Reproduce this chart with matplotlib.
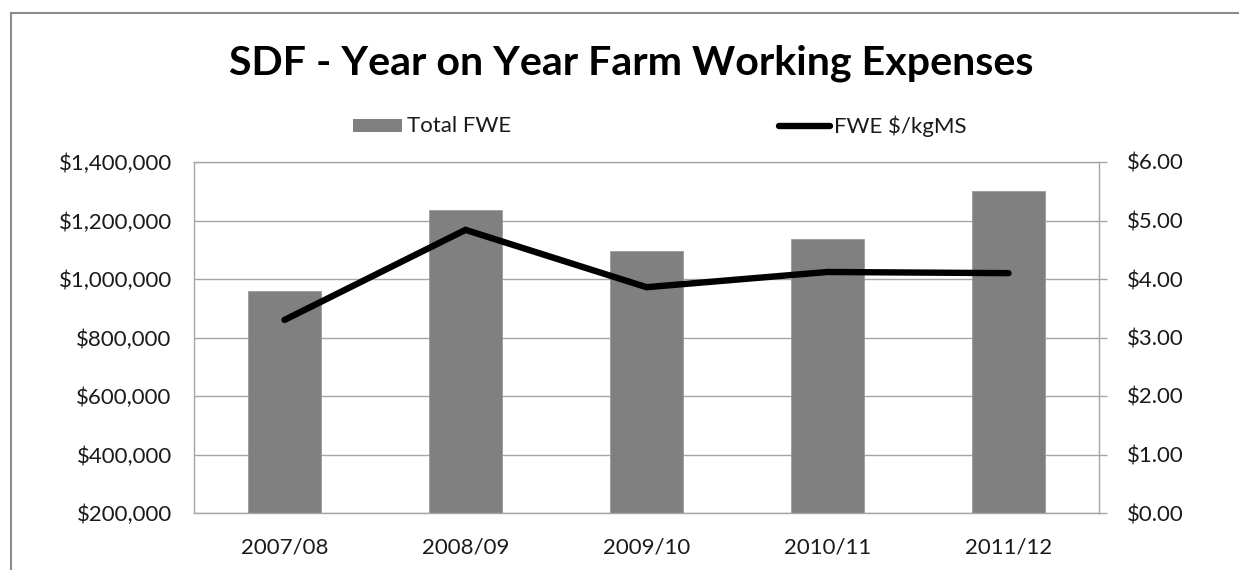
import matplotlib
matplotlib.use("Agg")
import matplotlib.pyplot as plt
from matplotlib.lines import Line2D
from matplotlib.patches import Rectangle
from matplotlib.ticker import FuncFormatter

plt.rcParams['font.family'] = ['Lato', 'DejaVu Sans']

# Data
seasons = ["2007/08", "2008/09", "2009/10", "2010/11", "2011/12"]
total_fwe = [960000, 1235000, 1097000, 1136000, 1300000]
fwe_per_kgms = [3.30, 4.84, 3.86, 4.12, 4.10]
left_ticks = [200000, 400000, 600000, 800000, 1000000, 1200000, 1400000]
right_ticks = [0, 1, 2, 3, 4, 5, 6]

W, H = 1239, 570
fig = plt.figure(figsize=(W / 100, H / 100), dpi=100)
fig.patch.set_facecolor("white")

grid_c = "#a6a6a6"
bar_c = "#808080"

ax = fig.add_axes([194 / W, 1 - 513 / H, (1099 - 194) / W, (513 - 162) / H])
x = list(range(len(seasons)))
ax.bar(x, total_fwe, width=0.4, color=bar_c, edgecolor="#9a9a9a", linewidth=0.6, zorder=2)
ax.set_xlim(-0.5, len(seasons) - 0.5)
ax.set_ylim(left_ticks[0], left_ticks[-1])
ax.set_yticks(left_ticks)
ax.yaxis.set_major_formatter(FuncFormatter(lambda v, p: f"${v:,.0f}"))
ax.set_xticks(x)
ax.set_xticklabels(seasons)
ax.grid(axis="y", color=grid_c, linewidth=1.0)
ax.set_axisbelow(True)
ax.tick_params(axis="y", length=0, pad=16, labelsize=16, colors="#1a1a1a")
ax.tick_params(axis="x", length=0, pad=18, labelsize=16, colors="#1a1a1a")
for s in ["left", "bottom", "top"]:
    ax.spines[s].set_color(grid_c)
    ax.spines[s].set_linewidth(1.0)
ax.spines["right"].set_visible(False)

ax2 = ax.twinx()
ax2.plot(x, fwe_per_kgms, color="black", linewidth=4.6, solid_capstyle="round",
         solid_joinstyle="miter", zorder=3)
ax2.set_ylim(right_ticks[0], right_ticks[-1])
ax2.set_yticks(right_ticks)
ax2.yaxis.set_major_formatter(FuncFormatter(lambda v, p: f"${v:.2f}"))
ax2.tick_params(axis="y", length=6, width=1.0, color=grid_c, pad=14, labelsize=16,
                colors="#1a1a1a")
ax2.tick_params(axis="y", color=grid_c)
for s in ["left", "bottom", "top"]:
    ax2.spines[s].set_visible(False)
ax2.spines["right"].set_color(grid_c)
ax2.spines["right"].set_linewidth(1.0)

# Title
fig.text(631 / W, 1 - 63 / H, "SDF - Year on Year Farm Working Expenses",
         ha="center", va="center", fontsize=29.6, fontweight="bold", color="black")

# Legend
fig.add_artist(Rectangle((353 / W, 1 - 132 / H), 49 / W, 13 / H,
                         transform=fig.transFigure, facecolor=bar_c, edgecolor="none"))
fig.text(407 / W, 1 - 126 / H, "Total FWE", ha="left", va="center", fontsize=16, color="#1a1a1a")
fig.add_artist(Line2D([779 / W, 830 / W], [1 - 126 / H, 1 - 126 / H],
                      transform=fig.transFigure, color="black", linewidth=4.6,
                      solid_capstyle="round"))
fig.text(834 / W, 1 - 126 / H, "FWE $/kgMS", ha="left", va="center", fontsize=16, color="#1a1a1a")

# Outer frame
frame_c = "#8c8c8c"
fig.add_artist(Line2D([11 / W, 11 / W], [1 - 13 / H, 0], transform=fig.transFigure,
                      color=frame_c, linewidth=1.5))
fig.add_artist(Line2D([11 / W, 1], [1 - 13 / H, 1 - 13 / H], transform=fig.transFigure,
                      color=frame_c, linewidth=1.5))

fig.savefig("out.png", dpi=100, facecolor="white")
